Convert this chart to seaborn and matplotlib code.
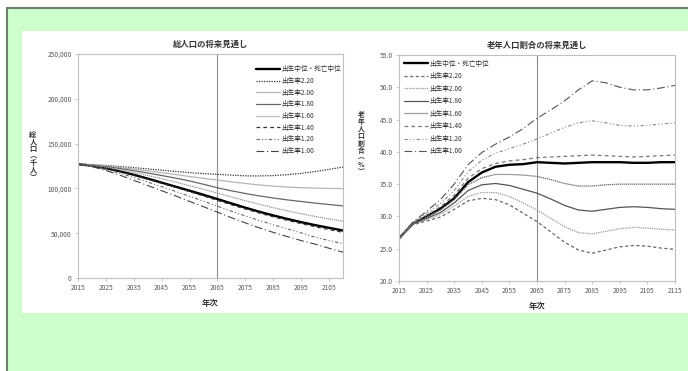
import numpy as np
import pandas as pd
import matplotlib
matplotlib.use("Agg")
import matplotlib.pyplot as plt
import seaborn as sns
from matplotlib.patches import Rectangle
from matplotlib.lines import Line2D

# ------------------------------------------------------------
# data (5-year steps)
# ------------------------------------------------------------
years_pop = list(range(2015, 2111, 5))
years_old = list(range(2015, 2116, 5))

labels = ["出生中位・死亡中位", "出生率2.20", "出生率2.00", "出生率1.80",
          "出生率1.60", "出生率1.40", "出生率1.20", "出生率1.00"]

# total population (thousand persons)
pop_median = [127095, 125325, 122544, 119125, 115216, 110919, 106421, 101923, 97441, 92840,
              88077, 83227, 78459, 73976, 69826, 65971, 62314, 59000, 56000, 53000]
pop_220 = [127095, 126500, 125600, 124500, 123200, 121800, 120300, 118900, 117600, 116500,
           115700, 114800, 114000, 113900, 114300, 115300, 116800, 118800, 121200, 123800]
pop_200 = [127095, 126300, 125000, 123400, 121600, 119600, 117600, 115500, 113300, 111200,
           109300, 107300, 105500, 103800, 102500, 101500, 100800, 100300, 100000, 99800]
pop_180 = [127095, 126000, 124300, 122200, 119800, 117200, 114400, 111500, 108300, 104600,
           100700, 97300, 94300, 91600, 89300, 87200, 85400, 83600, 82000, 80500]
pop_160 = [127095, 125700, 123600, 120800, 117800, 114400, 110800, 107000, 103000, 99000,
           94700, 90400, 86200, 82200, 78500, 75000, 71700, 68700, 65900, 63400]
pop_140 = [127095, 125200, 122300, 118700, 114600, 110300, 105700, 101100, 96400, 91600,
           86600, 81700, 77000, 72500, 68300, 64400, 60700, 57200, 54000, 51000]
pop_120 = [127095, 124800, 121200, 116900, 112100, 107100, 101900, 96600, 91200, 85700,
           80200, 74600, 69300, 64200, 59400, 54900, 50300, 45500, 41800, 38400]
pop_100 = [127095, 124300, 120000, 114800, 109000, 103200, 97400, 91600, 85500, 79500,
           73500, 67300, 61500, 56000, 50900, 46200, 41800, 37800, 33200, 28800]

# elderly population ratio (%)
old_median = [26.6, 28.9, 30.0, 31.2, 32.8, 35.3, 36.8, 37.7, 38.0, 38.1, 38.4,
              38.3, 38.2, 38.3, 38.4, 38.4, 38.4, 38.3, 38.3, 38.4, 38.4]
old_220 = [26.6, 28.7, 29.3, 29.9, 31.1, 32.4, 32.8, 32.6, 31.8, 30.5, 29.2,
           27.6, 26.0, 24.8, 24.3, 24.8, 25.3, 25.5, 25.4, 25.1, 24.9]
old_200 = [26.6, 28.8, 29.5, 30.3, 31.6, 33.1, 33.7, 33.7, 33.1, 32.1, 31.0,
           29.7, 28.4, 27.5, 27.3, 27.7, 28.1, 28.3, 28.2, 28.0, 27.9]
old_180 = [26.6, 28.8, 29.7, 30.6, 32.1, 34.0, 34.9, 35.1, 34.8, 34.2, 33.6,
           32.7, 31.7, 31.0, 30.8, 31.1, 31.4, 31.5, 31.4, 31.2, 31.1]
old_160 = [26.6, 28.9, 29.9, 31.0, 32.6, 34.9, 36.0, 36.5, 36.5, 36.4, 36.2,
           35.7, 35.1, 34.7, 34.7, 34.9, 35.0, 35.0, 35.0, 35.0, 35.0]
old_140 = [26.6, 29.0, 30.2, 31.5, 33.3, 35.9, 37.4, 38.2, 38.6, 38.8, 39.1,
           39.2, 39.3, 39.4, 39.5, 39.4, 39.3, 39.2, 39.3, 39.4, 39.5]
old_120 = [26.6, 29.0, 30.5, 32.0, 34.0, 36.9, 38.7, 39.8, 40.5, 41.2, 42.0,
           42.9, 43.8, 44.5, 44.8, 44.5, 44.1, 44.0, 44.1, 44.3, 44.5]
old_100 = [26.6, 29.1, 30.8, 32.6, 35.0, 38.0, 39.9, 41.2, 42.3, 43.6, 45.2,
           46.5, 47.9, 49.6, 51.0, 50.7, 50.0, 49.6, 49.6, 49.9, 50.3]

pop_series = [pop_median, pop_220, pop_200, pop_180, pop_160, pop_140, pop_120, pop_100]
old_series = [old_median, old_220, old_200, old_180, old_160, old_140, old_120, old_100]

pop_ticks = [0, 50000, 100000, 150000, 200000, 250000]
old_ticks = [20, 25, 30, 35, 40, 45, 50, 55]
year_ticks_pop = list(range(2015, 2106, 10))
year_ticks_old = list(range(2015, 2116, 10))

# line styles (same order as labels)
styles_pop = [
    dict(color="#000000", lw=1.7, linestyle="-"),
    dict(color="#333333", lw=0.9, linestyle=(0, (1, 1))),
    dict(color="#b5b5b5", lw=0.9, linestyle="-"),
    dict(color="#666666", lw=0.9, linestyle="-"),
    dict(color="#9a9a9a", lw=0.9, linestyle=(0, (1, 0.6))),
    dict(color="#333333", lw=0.9, linestyle=(0, (3, 2.5))),
    dict(color="#666666", lw=0.8, linestyle=(0, (3, 2, 1, 2, 1, 2))),
    dict(color="#444444", lw=0.8, linestyle=(0, (7, 2.5, 1, 2.5))),
]
styles_old = [
    dict(color="#000000", lw=1.7, linestyle="-"),
    dict(color="#666666", lw=0.9, linestyle=(0, (2.5, 2))),
    dict(color="#999999", lw=0.9, linestyle=(0, (1, 0.8))),
    dict(color="#555555", lw=0.9, linestyle="-"),
    dict(color="#666666", lw=0.9, linestyle=(0, (1, 0.6))),
    dict(color="#777777", lw=0.9, linestyle=(0, (3, 2.5))),
    dict(color="#888888", lw=0.8, linestyle=(0, (3, 2, 1, 2, 1, 2))),
    dict(color="#555555", lw=0.8, linestyle=(0, (7, 2.5, 1, 2.5))),
]

# ------------------------------------------------------------
# figure
# ------------------------------------------------------------
sns.set_theme(style="white")
plt.rcParams["font.family"] = ["Noto Sans CJK JP", "DejaVu Sans"]

W, H = 688, 371
fig = plt.figure(figsize=(W / 100, H / 100), dpi=100, facecolor="white")

# green page with a dark edge, and the white chart panel
fig.patches.append(Rectangle((7 / W, 0), 1, 1 - 8 / H, transform=fig.transFigure,
                             facecolor="#ccffcc", edgecolor="none", zorder=-10))
fig.patches.append(Rectangle((22 / W, 1 - 313 / H), 1, (313 - 31) / H,
                             transform=fig.transFigure, facecolor="white",
                             edgecolor="none", zorder=-9))
fig.add_artist(Line2D([7 / W, 7 / W], [0, 1 - 8 / H], color="#6f7f6f", lw=1.5,
                      transform=fig.transFigure, zorder=-8))
fig.add_artist(Line2D([7 / W, 1], [1 - 8 / H, 1 - 8 / H], color="#6f7f6f", lw=1.5,
                      transform=fig.transFigure, zorder=-8))


def px_axes(x0, y0, x1, y1):
    return fig.add_axes([x0 / W, 1 - y1 / H, (x1 - x0) / W, (y1 - y0) / H])


ax1 = px_axes(78, 54, 343, 278)
ax2 = px_axes(399, 55, 675, 281)

for ax, yrs, series, styles in [(ax1, years_pop, pop_series, styles_pop),
                                (ax2, years_old, old_series, styles_old)]:
    for lab, vals, st in zip(labels, series, styles):
        sns.lineplot(x=yrs, y=vals, ax=ax, label=lab, **st)
    ax.axvline(2065, color="#8c8c8c", lw=0.8, zorder=0)
    ax.set_facecolor("white")
    for sp in ax.spines.values():
        sp.set_color("#bfbfbf")
        sp.set_linewidth(0.8)
    ax.tick_params(axis="both", labelsize=4.8, colors="#bfbfbf", labelcolor="#595959",
                   length=2.5, width=0.6, direction="out", pad=2,
                   bottom=True, left=True)
    ax.set_xlabel("年次", fontsize=6, color="#333333", labelpad=5, fontweight="bold")

ax1.set_xlim(2015, 2110)
ax1.set_ylim(0, 250000)
ax1.set_xticks(year_ticks_pop)
ax1.set_yticks(pop_ticks)
ax1.set_yticklabels([f"{v:,}" for v in pop_ticks])
ax1.set_title("総人口の将来見通し", fontsize=6, color="#333333", pad=5, fontweight="bold")
ax1.set_ylabel("")

ax2.set_xlim(2015, 2115)
ax2.set_ylim(20, 55)
ax2.set_xticks(year_ticks_old)
ax2.set_yticks(old_ticks)
ax2.set_yticklabels([f"{v:.1f}" for v in old_ticks])
ax2.set_title("老年人口割合の将来見通し", fontsize=6, color="#333333", pad=5, fontweight="bold")
ax2.set_ylabel("")

# stacked vertical y labels (Excel style)
fig.text(33 / W, 1 - 156 / H, "\n".join("総人口︵千人︶"), fontsize=5.2,
         color="#333333", ha="center", va="center", linespacing=1.0, fontweight="bold")
fig.text(361 / W, 1 - 143 / H, "\n".join("老年人口割合︵%︶"), fontsize=4.9,
         color="#333333", ha="center", va="center", linespacing=1.0, fontweight="bold")

leg_kw = dict(frameon=False, fontsize=4.8, handlelength=3.6, handletextpad=0.2,
              borderaxespad=0.3, labelcolor="#333333")
ax1.legend(loc="upper right", bbox_to_anchor=(1.01, 0.97), labelspacing=0.55, **leg_kw)
ax2.legend(loc="upper left", bbox_to_anchor=(0.0, 1.0), labelspacing=0.68, **leg_kw)

fig.savefig("out.png", dpi=100, facecolor=fig.get_facecolor())
